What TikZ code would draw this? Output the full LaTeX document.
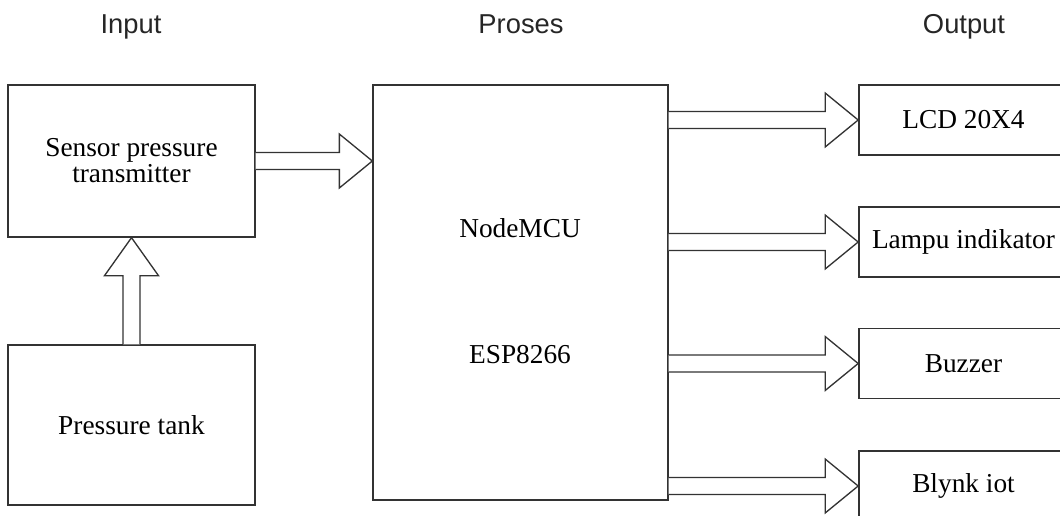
\documentclass[tikz,border=0pt]{standalone}
\usepackage{fontspec}
\setmainfont{Liberation Serif}
\setsansfont{Liberation Sans}
\usetikzlibrary{calc}

\tikzset{
  box/.style={draw=black!80, line width=1pt, rectangle, inner sep=0pt,
    font=\fontsize{20.5}{24}\selectfont, align=center},
  head/.style={font=\sffamily\fontsize{20.5}{24}\selectfont, text=black!85, anchor=base},
  txt/.style={font=\fontsize{20.5}{24}\selectfont},
  blockarr/.style={draw=black!80, line width=1pt, fill=white, line join=miter}
}

% block arrow to the right, from #1 to tip #2
\newcommand{\rarrow}[2]{%
  \draw[blockarr] ($(#1)+(0,-8.5)$) -- ($(#2)+(-33,-8.5)$) -- ($(#2)+(-33,-27)$)
    -- (#2) -- ($(#2)+(-33,27)$) -- ($(#2)+(-33,8.5)$) -- ($(#1)+(0,8.5)$);}
% block arrow upwards, from #1 to tip #2
\newcommand{\uarrow}[2]{%
  \draw[blockarr] ($(#1)+(-8.5,0)$) -- ($(#2)+(-8.5,38)$) -- ($(#2)+(-27,38)$)
    -- (#2) -- ($(#2)+(27,38)$) -- ($(#2)+(8.5,38)$) -- ($(#1)+(8.5,0)$);}

\begin{document}
\begin{tikzpicture}[x=0.75pt, y=-0.75pt]
    \useasboundingbox (0,0) rectangle (1060,515);
    \clip (0,0) rectangle (1060,515);

    % Headings
    \node[head] (hin)  at (131,33) {Input};
    \node[head] (hpro) at (521,33) {Proses};
    \node[head] (hout) at (964,33) {Output};

    % Input
    \node[box, minimum width=185.25pt, minimum height=114pt] (sensor) at (131.5,161)
        {Sensor pressure\\[-4.5pt]transmitter};
    \node[box, minimum width=185.25pt, minimum height=120pt] (tank) at (131.5,425)
        {Pressure tank};

    % Proses
    \node[box, minimum width=221.25pt, minimum height=311.25pt] (mcu) at (520.5,292.5) {};
    \node[txt] (mcuname) at (520,228) {NodeMCU};
    \node[txt] (mcuchip) at (520,355) {ESP8266};

    % Output
    \node[box, minimum width=157pt, minimum height=52.5pt] (lcd)    at (963.5,120)   {LCD 20X4};
    \node[box, minimum width=157pt, minimum height=52.5pt] (lampu)  at (963.5,242)   {Lampu indikator};
    \node[box, minimum width=157pt, minimum height=52.5pt] (buzzer) at (963.5,363.5) {Buzzer};
    \node[box, minimum width=157pt, minimum height=52.5pt] (blynk)  at (963.5,486)   {Blynk iot};

    % Arrows
    \uarrow{tank.north}{sensor.south}
    \rarrow{sensor.east}{sensor.east -| mcu.west}
    \rarrow{mcu.east |- lcd.west}{lcd.west}
    \rarrow{mcu.east |- lampu.west}{lampu.west}
    \rarrow{mcu.east |- buzzer.west}{buzzer.west}
    \rarrow{mcu.east |- blynk.west}{blynk.west}
\end{tikzpicture}
\end{document}
